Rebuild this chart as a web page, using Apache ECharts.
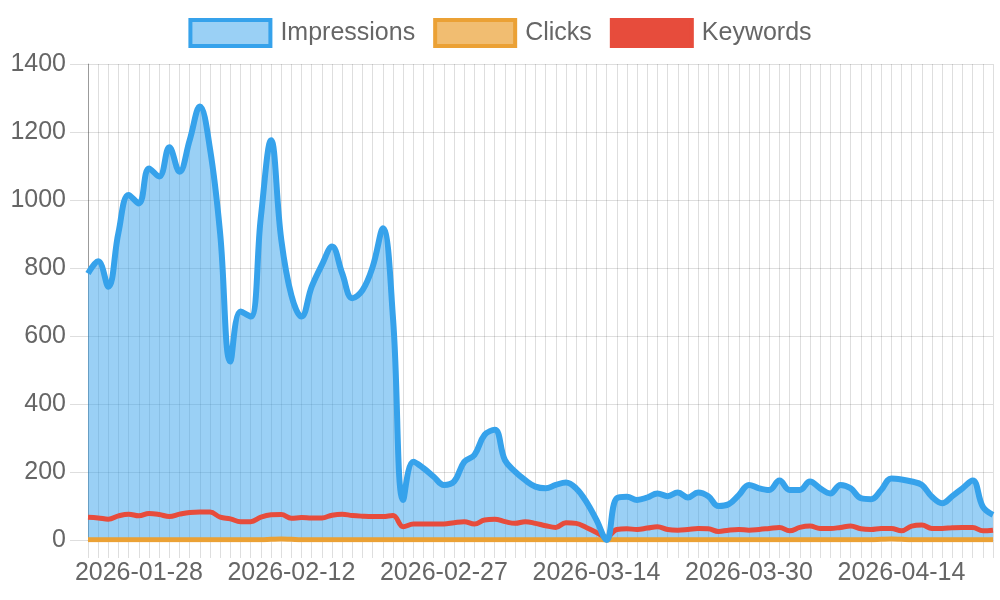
<!DOCTYPE html>
<html><head><meta charset="utf-8">
<script src="https://cdn.jsdelivr.net/npm/echarts@6/dist/echarts.min.js"></script>
<style>html,body{margin:0;padding:0;background:#fff}#c{width:1000px;height:600px}</style>
</head><body><div id="c"></div>
<script>
const dates = [
"2026-01-23","2026-01-24","2026-01-25","2026-01-26","2026-01-27","2026-01-28","2026-01-29","2026-01-30","2026-01-31",
"2026-02-01","2026-02-02","2026-02-03","2026-02-04","2026-02-05","2026-02-06","2026-02-07","2026-02-08","2026-02-09","2026-02-10",
"2026-02-11","2026-02-12","2026-02-13","2026-02-14","2026-02-15","2026-02-16","2026-02-17","2026-02-18","2026-02-19","2026-02-20",
"2026-02-21","2026-02-22","2026-02-23","2026-02-24","2026-02-25","2026-02-26","2026-02-27","2026-02-28",
"2026-03-01","2026-03-02","2026-03-03","2026-03-04","2026-03-05","2026-03-06","2026-03-07","2026-03-08","2026-03-09","2026-03-10",
"2026-03-11","2026-03-12","2026-03-13","2026-03-14","2026-03-15","2026-03-16","2026-03-17","2026-03-18","2026-03-19","2026-03-20",
"2026-03-21","2026-03-22","2026-03-23","2026-03-24","2026-03-25","2026-03-26","2026-03-27","2026-03-28","2026-03-30","2026-03-31",
"2026-04-01","2026-04-02","2026-04-03","2026-04-04","2026-04-05","2026-04-06","2026-04-07","2026-04-08","2026-04-09","2026-04-10",
"2026-04-11","2026-04-12","2026-04-13","2026-04-14","2026-04-15","2026-04-16","2026-04-17","2026-04-18","2026-04-19","2026-04-20",
"2026-04-21","2026-04-22","2026-04-23"
];
const impressions = [
784, 820, 745, 905, 1015, 990, 1093, 1069, 1155, 1083,
1176, 1275, 1150, 900, 525, 672, 657, 950, 1176, 885,
720, 657, 745, 809, 863, 784, 711, 735, 804, 917,
650, 118, 230, 211, 186, 162, 172, 230, 250, 309,
324, 235, 201, 176, 157, 152, 162, 169, 152, 113,
59, 0, 123, 127, 118, 125, 137, 129, 140, 125,
140, 129, 100, 105, 132, 162, 152, 147, 175, 147,
147, 172, 152, 137, 162, 152, 123, 120, 147, 181,
178, 172, 162, 127, 108, 129, 152, 175, 98, 74
];
const clicks = [
1,1,1,1,1,1,1,1,1,1,
1,1,1,1,1,1,1,1,2,3,
2,1,1,1,1,1,1,1,1,1,
1,1,1,1,1,1,1,1,1,1,
1,1,1,1,1,1,1,1,1,1,
1,0,1,1,1,1,1,1,1,1,
1,1,1,1,1,1,1,1,1,1,
1,1,1,1,1,1,1,1,2,3,
2,1,1,1,1,1,1,1,1,1
];
const keywords = [
67, 65, 61, 71, 76, 71, 78, 75, 69, 76,
81, 82, 82, 67, 62, 54, 54, 67, 74, 75,
64, 66, 65, 65, 73, 76, 72, 70, 69, 69,
72, 39, 47, 47, 47, 47, 51, 54, 47, 59,
61, 54, 49, 54, 49, 42, 37, 51, 49, 37,
22, 8, 31, 33, 31, 35, 39, 31, 29, 31,
34, 33, 25, 29, 31, 29, 31, 34, 37, 27,
37, 41, 34, 34, 37, 41, 33, 31, 34, 34,
27, 41, 44, 34, 34, 36, 37, 37, 27, 29
];
const seriesNames = ["Impressions", "Clicks", "Keywords"];

const FONT = '"Liberation Sans", Arial, Helvetica, sans-serif';
const GRID = 'rgba(0,0,0,0.13)';
const BLUE = '#36a2eb', ORANGE = '#eba135', RED = '#e74c3c';

const chart = echarts.init(document.getElementById('c'), null, {renderer: 'canvas'});
chart.setOption({
  animation: false,
  textStyle: {fontFamily: FONT},
  legend: {
    top: 13, left: 'center', itemWidth: 80, itemHeight: 26, itemGap: 18, icon: 'rect',
    textStyle: {fontSize: 25, color: '#666', fontFamily: FONT, padding: [0, 0, 0, 5]},
    data: [
      {name: seriesNames[0], itemStyle: {color: 'rgba(54,162,235,0.5)', borderColor: BLUE, borderWidth: 4}},
      {name: seriesNames[1], itemStyle: {color: 'rgba(235,161,53,0.7)', borderColor: ORANGE, borderWidth: 4}},
      {name: seriesNames[2], itemStyle: {color: RED, borderColor: RED, borderWidth: 4}}
    ]
  },
  grid: {left: 88, right: 7, top: 64, bottom: 60, containLabel: false},
  xAxis: {
    type: 'category', data: dates, boundaryGap: false,
    axisLine: {show: true, lineStyle: {color: GRID}},
    axisTick: {show: true, interval: 0, length: 18, lineStyle: {color: GRID}},
    axisLabel: {interval: (i) => (i - 5) % 15 === 0, fontSize: 25, color: '#666', margin: 21, fontFamily: FONT},
    splitLine: {show: true, interval: 0, lineStyle: {color: GRID}}
  },
  yAxis: {
    type: 'value', min: 0, max: 1400, interval: 200,
    axisLine: {show: true, lineStyle: {color: 'rgba(0,0,0,0.3)'}},
    axisTick: {show: true, length: 18, lineStyle: {color: GRID}},
    axisLabel: {fontSize: 25, color: '#666', margin: 22, fontFamily: FONT, formatter: (v) => String(v)},
    splitLine: {show: true, lineStyle: {color: GRID}}
  },
  series: [
    {name: seriesNames[0], type: 'line', data: impressions, smooth: 0.4, showSymbol: false,
     lineStyle: {width: 0, opacity: 0}, itemStyle: {color: BLUE},
     areaStyle: {color: 'rgba(54,162,235,0.5)', opacity: 1, origin: 'start'}},
    {name: seriesNames[1], type: 'line', data: clicks, smooth: 0.4, showSymbol: false,
     lineStyle: {width: 5, color: ORANGE}, itemStyle: {color: ORANGE}},
    {name: seriesNames[2], type: 'line', data: keywords, smooth: 0.4, showSymbol: false,
     lineStyle: {width: 5, color: RED}, itemStyle: {color: RED}},
    {name: seriesNames[0], type: 'line', data: impressions, smooth: 0.4, showSymbol: false,
     lineStyle: {width: 6, color: BLUE}, itemStyle: {color: BLUE}}
  ]
});
</script>
</body></html>
